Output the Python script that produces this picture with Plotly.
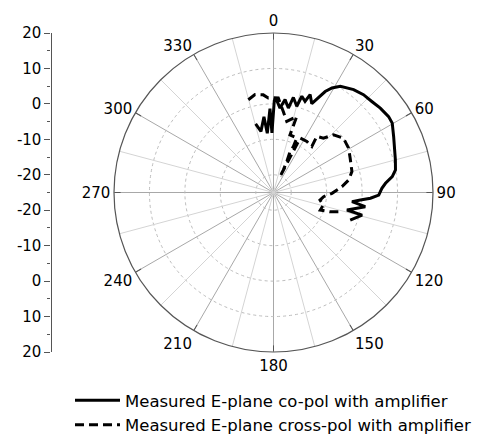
import plotly.graph_objects as go

FONT = "DejaVu Sans"

# Measured E-plane co-polar pattern (angle in degrees, level in dB)
copol_theta = [-14.6, -11.6, -7.2, -6.0, -2.4, -1.5, 0.5, 1.3, 4.4, 7.1, 10.0, 11.8,
               15.1, 16.4, 19.1, 20.5, 23.3, 27.1, 29.2, 32.2, 37.9, 42.6, 47.2,
               51.7, 56.6, 59.7, 65.0, 75.0, 79.5, 82.4, 85.3, 87.8, 91.4, 93.4,
               95.0, 96.7, 98.8, 103.4, 104.3, 109.8]
copol_db = [-5.0, -7.4, -3.5, -8.2, -1.3, -8.2, 0.9, 1.7, -1.1, 1.4, -0.8, 2.4,
            0.2, 3.3, 2.2, 4.5, 2.3, 7.0, 8.8, 10.4, 11.8, 12.5, 12.8,
            13.4, 13.9, 13.8, 12.4, 10.6, 10.0, 8.8, 6.7, 5.6, 4.7, 2.4,
            -0.4, -2.7, 1.2, -3.7, 0.8, -2.0]

# Measured E-plane cross-polar pattern
xpol_theta = [-15.2, -10.7, -6.0, -3.2, -1.1, 2.9, 6.9, 10.6, 17.0, 16.0, 23.2,
              23.4, 22.0, 23.2, 23.5, 22.4, 26.1, 33.2, 39.8, 37.7, 42.6, 46.1,
              52.2, 59.4, 65.9, 75.1, 80.5, 85.1, 90.8, 94.8, 99.2, 104.1,
              110.6, 108.8, 106.5, 108.3]
xpol_db = [2.1, 3.1, 2.7, 1.7, 1.8, 1.7, -2.0, -4.6, -2.6, -8.1, -8.3,
           -10.9, -12.5, -15.5, -18.1, -20.2, -7.9, -7.8, -8.1, -5.0, -4.2, -1.5,
           0.0, -0.4, -1.3, -2.1, -3.5, -5.6, -8.5, -10.8, -11.7, -10.5,
           -10.9, -8.1, -5.9, -4.7]

angle_labels = list(range(0, 360, 30))
minor_spokes = list(range(15, 360, 30))
radial_ticks = [-20, -10, 0, 10, 20]
r_min, r_max = -25, 20

fig = go.Figure()

# light 15-degree spokes between the labelled directions
spoke_r, spoke_t = [], []
for a in minor_spokes:
    spoke_r += [r_min, r_max, None]
    spoke_t += [a, a, None]
fig.add_trace(go.Scatterpolar(r=spoke_r, theta=spoke_t, mode="lines",
                              line=dict(color="#d4d4d4", width=1),
                              hoverinfo="skip", showlegend=False))

fig.add_trace(go.Scatterpolar(
    r=copol_db, theta=copol_theta, mode="lines",
    name="Measured E-plane co-pol with amplifier",
    line=dict(color="black", width=3)))
fig.add_trace(go.Scatterpolar(
    r=xpol_db, theta=xpol_theta, mode="lines",
    name="Measured E-plane cross-pol with amplifier",
    line=dict(color="black", width=3, dash="9px,5px")))

# empty traces so the two halves of the left dB scale are drawn
fig.add_trace(go.Scatter(x=[], y=[], xaxis="x", yaxis="y", showlegend=False))
fig.add_trace(go.Scatter(x=[], y=[], xaxis="x", yaxis="y2", showlegend=False))

axis_x = 50.5 / 498
y_top, y_mid, y_bot = 1 - 33 / 438, 1 - 192.5 / 438, 1 - 352 / 438

scale_style = dict(
    tickmode="array", tickvals=radial_ticks, ticktext=[str(v) for v in radial_ticks],
    ticks="outside", ticklen=6, tickcolor="#555", tickwidth=1.2,
    showline=True, linecolor="#555", linewidth=1.2, automargin=False,
    showgrid=False, zeroline=False, anchor="free", position=axis_x,
    tickfont=dict(family=FONT, size=15, color="black"),
    minor=dict(dtick=5, tick0=0, ticks="outside", ticklen=3,
               tickcolor="#555", tickwidth=1.2, showgrid=False),
)

fig.update_layout(
    width=498, height=438,
    margin=dict(l=0, r=0, t=0, b=0, autoexpand=False),
    paper_bgcolor="white", plot_bgcolor="white",
    font=dict(family=FONT, color="black"),
    polar=dict(
        domain=dict(x=[114 / 498, 433 / 498], y=[y_bot, y_top]),
        bgcolor="white",
        angularaxis=dict(
            rotation=90, direction="clockwise",
            tickmode="array", tickvals=angle_labels,
            ticktext=[str(a) for a in angle_labels],
            ticks="inside", ticklen=6, tickcolor="#555", tickwidth=1.2,
            showline=True, linecolor="#555", linewidth=1.2,
            gridcolor="#a8a8a8", gridwidth=1,
            tickfont=dict(family=FONT, size=15, color="black"),
        ),
        radialaxis=dict(
            range=[r_min, r_max], tickmode="array", tickvals=radial_ticks[:-1],
            showticklabels=False, ticks="", showline=False,
            gridcolor="#bdbdbd", griddash="dot", gridwidth=1,
        ),
    ),
    xaxis=dict(domain=[axis_x, axis_x + 0.02], range=[0, 1], visible=False),
    yaxis=dict(domain=[y_mid, y_top], range=[r_min, r_max], **scale_style),
    yaxis2=dict(domain=[y_bot, y_mid], range=[r_max, r_min], **scale_style),
    legend=dict(
        x=70 / 498, y=1 - 383 / 438, xanchor="left", yanchor="top",
        font=dict(family=FONT, size=16.5, color="black"),
        itemwidth=45, bgcolor="rgba(0,0,0,0)", tracegroupgap=0,
    ),
)

fig.write_html("out.html")
